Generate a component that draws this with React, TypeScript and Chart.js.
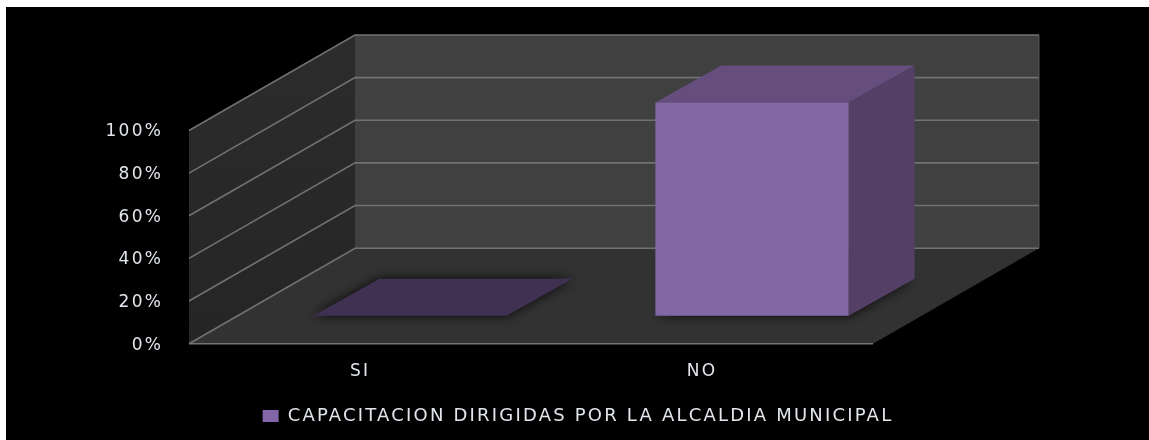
import React, { useEffect, useRef } from "react";
import { Chart, registerables } from "chart.js";

Chart.register(...registerables);

const categories = ["SI", "NO"];
const seriesName = "CAPACITACION DIRIGIDAS POR LA ALCALDIA MUNICIPAL";
const seriesValues = [0, 100];
const yMax = 100;
const yStep = 20;

const WALL = { dx: 166, dy: -95.5 };
const BAR_SHIFT = { dx: 50, dy: -28 };
const BAR_DEPTH = { dx: 66, dy: -37 };
const FRONT = "#8366a5";
const TOP = "#654e7e";
const SIDE = "#544066";
const FLAT = "#403052";
const LINE = "#727272";
const SPACING = "2.2px";

function poly(ctx: CanvasRenderingContext2D, pts: number[][], fill: any) {
  ctx.beginPath();
  pts.forEach((p, i) => (i ? ctx.lineTo(p[0], p[1]) : ctx.moveTo(p[0], p[1])));
  ctx.closePath();
  ctx.fillStyle = fill;
  ctx.fill();
}

const depthPlugin = {
  id: "depth",
  beforeUpdate(chart: any) {
    (chart.ctx as any).letterSpacing = SPACING;
  },
  beforeDraw(chart: any) {
    const ctx: CanvasRenderingContext2D = chart.ctx;
    (ctx as any).letterSpacing = SPACING;
    ctx.save();
    ctx.fillStyle = "#ffffff";
    ctx.fillRect(0, 0, chart.width, chart.height);
    ctx.fillStyle = "#000000";
    ctx.fillRect(6, 7, chart.width - 6, chart.height - 7);
    ctx.restore();
  },
  beforeDatasetsDraw(chart: any) {
    const ctx: CanvasRenderingContext2D = chart.ctx;
    const { left, right, top, bottom } = chart.chartArea;
    const y = chart.scales.y;
    ctx.save();
    poly(ctx, [[left + WALL.dx, top + WALL.dy], [right + WALL.dx, top + WALL.dy], [right + WALL.dx, bottom + WALL.dy], [left + WALL.dx, bottom + WALL.dy]], "#404040");
    const lg = ctx.createLinearGradient(0, top + WALL.dy, 0, bottom);
    lg.addColorStop(0, "#2c2c2c");
    lg.addColorStop(1, "#252525");
    poly(ctx, [[left, top], [left + WALL.dx, top + WALL.dy], [left + WALL.dx, bottom + WALL.dy], [left, bottom]], lg);
    poly(ctx, [[left, bottom], [left + WALL.dx, bottom + WALL.dy], [right + WALL.dx, bottom + WALL.dy], [right, bottom]], "#323232");
    ctx.strokeStyle = LINE;
    ctx.lineWidth = 1.6;
    y.ticks.forEach((t: any) => {
      const py = y.getPixelForValue(t.value);
      ctx.beginPath();
      ctx.moveTo(left, py);
      ctx.lineTo(left + WALL.dx, py + WALL.dy);
      ctx.lineTo(right + WALL.dx, py + WALL.dy);
      ctx.stroke();
    });
    ctx.beginPath();
    ctx.moveTo(left, bottom);
    ctx.lineTo(right, bottom);
    ctx.stroke();
    ctx.strokeStyle = "#555555";
    ctx.lineWidth = 1;
    ctx.beginPath();
    ctx.moveTo(right + WALL.dx, top + WALL.dy);
    ctx.lineTo(right + WALL.dx, bottom + WALL.dy);
    ctx.stroke();
    chart.getDatasetMeta(0).data.forEach((el: any) => {
      const x0 = el.x - el.width / 2 + BAR_SHIFT.dx;
      const x1 = el.x + el.width / 2 + BAR_SHIFT.dx;
      const yT = el.y + BAR_SHIFT.dy;
      const yB = el.base + BAR_SHIFT.dy;
      const d = BAR_DEPTH;
      const flat = Math.abs(yB - yT) < 1;
      ctx.save();
      ctx.shadowColor = "rgba(0,0,0,0.85)";
      ctx.shadowBlur = 12;
      poly(ctx, [[x0, yB], [x0 + d.dx, yB + d.dy], [x1 + d.dx, yB + d.dy], [x1, yB]], flat ? FLAT : "#2a2a2a");
      ctx.restore();
      if (!flat) {
        poly(ctx, [[x0, yT], [x0 + d.dx, yT + d.dy], [x1 + d.dx, yT + d.dy], [x1, yT]], TOP);
        poly(ctx, [[x1, yT], [x1 + d.dx, yT + d.dy], [x1 + d.dx, yB + d.dy], [x1, yB]], SIDE);
      }
    });
    ctx.restore();
  },
  beforeDatasetDraw(chart: any) {
    chart.ctx.save();
    chart.ctx.translate(BAR_SHIFT.dx, BAR_SHIFT.dy);
  },
  afterDatasetDraw(chart: any) {
    chart.ctx.restore();
  },
};

export default function App() {
  const ref = useRef<HTMLCanvasElement>(null);
  useEffect(() => {
    const chart = new Chart(ref.current as HTMLCanvasElement, {
      type: "bar",
      data: {
        labels: categories,
        datasets: [
          {
            label: seriesName,
            data: seriesValues,
            backgroundColor: FRONT,
            borderWidth: 0,
            categoryPercentage: 1,
            barPercentage: 0.565,
            clip: false as any,
          },
        ],
      },
      options: {
        responsive: false,
        animation: false,
        devicePixelRatio: 1,
        layout: { padding: { left: 7, right: 0, top: 130.5, bottom: 5 } },
        plugins: {
          tooltip: { enabled: false },
          legend: {
            position: "bottom",
            labels: {
              color: "#e2e6ec",
              boxWidth: 16,
              boxHeight: 12,
              padding: 8,
              font: { family: "DejaVu Sans", size: 18 },
            },
          },
        },
        scales: {
          x: {
            grid: { display: false },
            border: { display: false },
            ticks: { color: "#e2e6ec", padding: 10, font: { family: "DejaVu Sans", size: 17 } },
            afterFit(s: any) {
              s.height = 55.3;
            },
          },
          y: {
            min: 0,
            max: yMax,
            grid: { display: false },
            border: { display: false },
            ticks: {
              stepSize: yStep,
              color: "#e2e6ec",
              padding: 18,
              labelOffset: 1.5,
              font: { family: "DejaVu Sans", size: 17 },
              callback: (v: any) => v + "%",
            },
            afterFit(s: any) {
              s.width = 182;
            },
          },
          y2: {
            position: "right",
            display: true,
            grid: { display: false },
            border: { display: false },
            ticks: { display: false },
            afterFit(s: any) {
              s.width = 276;
            },
          },
        },
      },
      plugins: [depthPlugin as any],
    });
    return () => chart.destroy();
  }, []);
  return (
    <canvas
      ref={ref}
      width={1149}
      height={440}
      style={{ position: "absolute", left: 0, top: 0, display: "block" }}
    />
  );
}
